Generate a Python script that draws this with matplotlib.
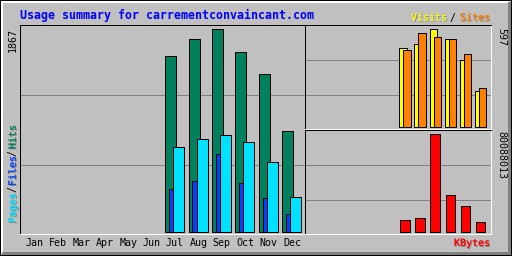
import matplotlib
matplotlib.use("Agg")
import matplotlib.pyplot as plt
import matplotlib.patheffects as pe
from matplotlib.patches import Rectangle

# ---- data ----
months = ['Jan', 'Feb', 'Mar', 'Apr', 'May', 'Jun',
          'Jul', 'Aug', 'Sep', 'Oct', 'Nov', 'Dec']
hits = [0, 0, 0, 0, 0, 0, 1619, 1775, 1867, 1655, 1453, 929]
files = [0, 0, 0, 0, 0, 0, 395, 469, 717, 451, 313, 166]
pages = [0, 0, 0, 0, 0, 0, 782, 855, 892, 828, 644, 322]
visits = [0, 0, 0, 0, 0, 0, 481, 508, 597, 536, 408, 221]
sites = [0, 0, 0, 0, 0, 0, 469, 573, 548, 536, 447, 238]
kbytes = [0, 0, 0, 0, 0, 0, 9800000, 11400000, 80088013, 30200000, 21200000, 8200000]

title = 'Usage summary for carrementconvaincant.com'

W, H = 512, 256
BG = '#c0c0c0'
GRID = '#808080'
C_HITS, C_FILES, C_PAGES = '#00805c', '#0040ff', '#00e0ff'
C_VISITS, C_SITES, C_KB = '#ffff00', '#ff8000', '#ff0000'
PX = 0.72  # one pixel in points
MONO = 'DejaVu Sans Mono'

fig = plt.figure(figsize=(W / 100, H / 100), dpi=100, facecolor=BG)


def fx(x):
    return x / W


def fy(y):
    return 1 - y / H


def strip(x0, y0, x1, y1, color):
    fig.add_artist(Rectangle((fx(x0), fy(y1)), fx(x1 - x0), (y1 - y0) / H,
                             transform=fig.transFigure, color=color, lw=0, zorder=0))


# outer 3d frame
strip(0, 0, W, 1, 'black')
strip(0, H - 1, W, H, 'black')
strip(0, 0, 1, H, 'black')
strip(W - 1, 0, W, H, 'black')
strip(1, 1, W - 2, 3, 'white')
strip(1, 1, 3, H - 2, 'white')
strip(2, H - 4, W - 1, H - 1, GRID)
strip(W - 4, 2, W - 1, H - 1, GRID)


def panel(l, t, r, b, xlim, ylim, grid_vals):
    ax = fig.add_axes([fx(l), fy(b), fx(r - l), (b - t) / H])
    ax.set_facecolor(BG)
    ax.set_xlim(*xlim)
    ax.set_ylim(*ylim)
    ax.set_xticks([])
    ax.set_yticks([])
    for side, col in (('left', 'black'), ('top', 'black'),
                      ('right', 'white'), ('bottom', 'white')):
        ax.spines[side].set_color(col)
        ax.spines[side].set_linewidth(PX)
    for g in grid_vals:
        ax.axhline(g, color=GRID, lw=PX, zorder=1)
    return ax


def bars(ax, vals, offset, width, color):
    xs = [i + offset for i, v in enumerate(vals) if v > 0]
    hs = [v for v in vals if v > 0]
    ax.bar(xs, hs, width=width, color=color, edgecolor='black',
           linewidth=PX, zorder=2)


# left panel: hits / files / pages
hmax = max(hits)
ax1 = panel(20, 25, 304.5, 233.5, (-0.624, 11.534),
            (-11, hmax * 207.3 / 203), [hmax * 67 / 203, hmax * 137 / 203])
bars(ax1, hits, -0.18, 0.47, C_HITS)
bars(ax1, files, -0.02, 0.47, C_FILES)
bars(ax1, pages, 0.16, 0.47, C_PAGES)

# right top: visits / sites
vmax = max(visits)
ax2 = panel(304.5, 25, 490.5, 129, (-0.667, 11.667),
            (-vmax * 1.7 / 98, vmax * 102.3 / 98), [vmax * 32 / 98, vmax * 67 / 98])
bars(ax2, visits, -0.133, 0.49, C_VISITS)
bars(ax2, sites, 0.133, 0.49, C_SITES)

# right bottom: kbytes
kmax = max(kbytes)
ax3 = panel(304.5, 130, 490.5, 234, (-0.667, 11.667),
            (-kmax * 1.7 / 98, kmax * 102.3 / 98), [kmax * 32 / 98, kmax * 67 / 98])
bars(ax3, kbytes, 0.0, 0.63, C_KB)

# texts
shadow = [pe.withSimplePatchShadow(offset=(PX, -PX), shadow_rgbFace=GRID, alpha=1.0),
          pe.Normal()]
fig.text(fx(20), fy(19), title, color='#0000ff', family=MONO, weight='bold',
         fontsize=8.4, va='baseline', ha='left')

fs = 7.2
fig.text(fx(490), fy(20.5), 'Sites', color=C_SITES, family=MONO, fontsize=fs,
         ha='right', va='baseline', path_effects=shadow)
fig.text(fx(452), fy(20.5), '/', color='black', family=MONO, fontsize=fs,
         ha='center', va='baseline')
fig.text(fx(447), fy(20.5), 'Visits', color=C_VISITS, family=MONO, fontsize=fs,
         ha='right', va='baseline', path_effects=shadow)
fig.text(fx(490), fy(246), 'KBytes', color=C_KB, family=MONO, fontsize=fs,
         ha='right', va='baseline', path_effects=shadow)

for i, m in enumerate(months):
    ax1.text(i, -0.06, m, transform=ax1.get_xaxis_transform(), family=MONO,
             fontsize=fs, ha='center', va='baseline', color='black')

# rotated scale labels
fig.text(fx(12.7), fy(28), f'{max(hits)}', rotation=90, family=MONO, fontsize=fs,
         ha='center', va='top', color='black')
fig.text(fx(501), fy(28), f'{max(visits)}', rotation=270, family=MONO, fontsize=fs,
         ha='center', va='top', color='black')
fig.text(fx(501), fy(131), f'{max(kbytes)}', rotation=270, family=MONO, fontsize=fs,
         ha='center', va='top', color='black')

# rotated legend: Pages / Files / Hits (bottom to top)
y = 223
for label, col in (('Pages', C_PAGES), ('/', 'black'), ('Files', C_FILES),
                   ('/', 'black'), ('Hits', C_HITS)):
    kw = {} if col == 'black' else {'path_effects': shadow}
    fig.text(fx(12.7), fy(y), label, rotation=90, family=MONO, fontsize=fs,
             ha='center', va='bottom', color=col, **kw)
    y -= 6 * len(label) + 0.5

fig.savefig('out.png', dpi=100, facecolor=BG)
